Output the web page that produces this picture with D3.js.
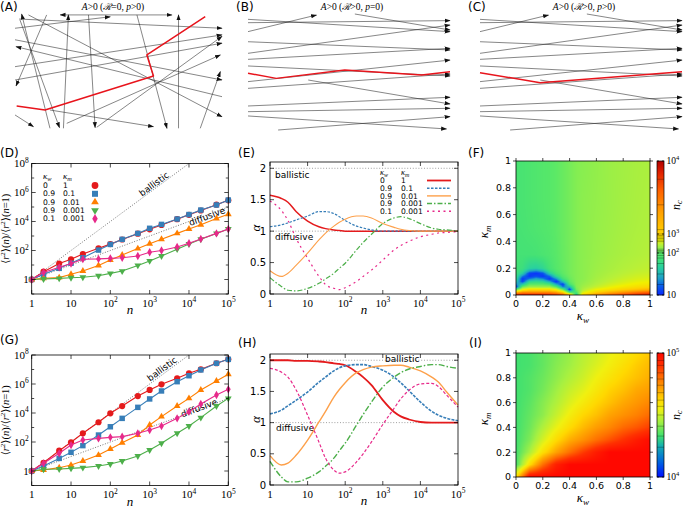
<!DOCTYPE html>
<html><head><meta charset="utf-8">
<script src="https://cdn.jsdelivr.net/npm/d3@7/dist/d3.min.js"></script>
<style>html,body{margin:0;padding:0;background:#fff}svg{display:block}</style>
</head><body>
<svg id="fig" width="685" height="513" xmlns="http://www.w3.org/2000/svg"></svg>
<script>
// ================= DATA =================
// Panels A-C : schematic trajectories, in fractional coordinates of each drawing box [x1,y1,x2,y2,bothEnds]
const netA = [
  [0.169,1.0,0.032,0.006,0],[0.024,0.058,0.215,0.994,0],[0.153,0.014,0.005,0.632,0],
  [0.218,0.014,0.758,0.014,1],[0.234,1.0,0.258,0.014,0],[0.355,0.014,0.387,0.994,0],
  [0.0,0.13,0.46,0.03,0],[0.02,0.05,1.0,0.13,0],[0.065,0.014,1.0,0.9,0],
  [1.0,0.725,0.005,0.29,0],[0.0,0.464,1.0,0.188,0],[0.0,0.58,1.0,0.26,0],
  [0.25,0.957,0.992,0.362,0],[0.395,0.991,1.0,0.2,0],[0.589,0.014,0.734,1.0,0],
  [0.79,1.0,0.79,0.014,0],[0.895,1.0,0.992,0.507,0],[0.0,0.884,0.089,0.986,0],
  [0.169,0.841,0.669,0.986,0],[0.0,0.23,1.0,0.58,0]
];
const redA = [[0.008,0.806],[0.145,0.841],[0.669,0.545],[0.637,0.362],[0.919,0.029]];
const netBC = [
  [0,0.046,1,0.152,0],[0,0.152,0.339,0.009,0],[0,0.075,1,0.057,0],[0.529,0,1,0.138,0],
  [0,0.239,1,0.31,0],[0,0.339,1,0.095,0],[0,0.391,1,0.296,0],[0,0.448,1,0.534,0],
  [0,0.583,1,0.397,0],[0,0.641,1,0.517,0],[0.298,0.569,1,0.776,0],[0,0.793,1,0.718,0],
  [0,0.842,1,0.813,0],[0,0.879,0.983,0.991,0],[0.149,1,1,0.885,0]
];
const redB = [[0,0.511],[0.14,0.555],[0.479,0.483],[0.86,0.526],[1,0.497]];
const redC = [[0,0.506],[0.298,0.592],[1,0.497]];

// Panels D and G : log10 of <r^2>(n)/<r^2>(n=1)
const nPts = [1,2,5,10,20,50,100,200,500,1000,2000,5000,10000,20000,50000,100000];
const dRed     = [0,0.54,1.1,1.39,1.76,2.15,2.44,2.76,3.16,3.46,3.76,4.16,4.46,4.76,5.16,5.46];
const dBlue    = [0,0.36,0.77,1.12,1.5,2.03,2.42,2.77,3.18,3.53,3.8,4.17,4.48,4.79,5.14,5.48];
const dOrange  = [0,0.08,0.13,0.36,0.59,0.97,1.34,1.69,2.13,2.47,2.78,3.18,3.48,3.78,4.21,4.5];
const dGreen   = [0,0.03,0.08,0.12,0.15,0.26,0.42,0.58,0.97,1.28,1.62,2.09,2.45,2.77,3.18,3.48];
const dMagenta = [0,0.49,0.84,1.1,1.4,1.42,1.46,1.5,1.62,1.88,2.0,2.24,2.5,2.8,3.18,3.48];
const gRed     = [0,0.57,1.4,1.98,2.6,3.36,3.98,4.48,5.17,5.59,5.98,6.39,6.74,7.01,7.43,7.7];
const gBlue    = [0,0.34,0.87,1.29,1.75,2.48,3.05,3.63,4.39,4.97,5.52,6.16,6.57,6.97,7.43,7.7];
const gOrange  = [0,0.07,0.23,0.41,0.69,1.1,1.52,1.95,2.48,3.17,3.75,4.48,5.01,5.59,6.21,6.67];
const gGreen   = [0,0.12,0.14,0.18,0.23,0.34,0.48,0.69,1.03,1.45,1.91,2.6,3.1,3.68,4.48,5.01];
const gMagenta = [0,0.53,1.22,1.79,2.14,2.25,2.32,2.37,2.6,2.83,3.1,3.63,4.09,4.62,5.24,5.63];
const ballisticRef = [[1,1],[1e4,1e8]];
const diffusiveRef = [[1,1],[1e5,1e5]];

// Panels E and H : local exponent alpha(n)
const aN = [1,2,3,5,10,20,30,50,70,100,200,300,500,1000,2000,3000,5000,10000,20000,30000,50000,100000];
const eRed     = [1.57,1.52,1.46,1.31,1.16,1.07,1.04,1.02,1.01,1.0,1.0,1.0,1.0,1.0,1.0,1.0,1.0,1.0,1.0,1.0,1.0,1.0];
const eBlue    = [1.07,1.1,1.13,1.18,1.24,1.31,1.31,1.28,1.23,1.17,1.08,1.05,1.02,1.0,1.0,1.0,1.0,1.0,1.0,1.0,1.0,1.0];
const eOrange  = [0.37,0.28,0.33,0.46,0.65,0.86,0.97,1.08,1.14,1.19,1.24,1.24,1.21,1.12,1.06,1.03,1.01,1.0,1.0,1.0,1.0,1.0];
const eGreen   = [0.26,0.12,0.06,0.05,0.09,0.17,0.24,0.33,0.41,0.49,0.7,0.82,0.95,1.12,1.21,1.23,1.2,1.12,1.05,1.03,1.02,1.0];
const eMagenta = [1.48,1.33,1.17,0.88,0.57,0.28,0.15,0.09,0.07,0.1,0.2,0.28,0.38,0.54,0.7,0.77,0.84,0.91,0.95,0.97,0.98,0.99];
const hRed     = [2.0,2.0,2.0,1.99,1.99,1.98,1.97,1.95,1.94,1.92,1.81,1.73,1.6,1.36,1.17,1.1,1.05,1.01,1.0,1.0,1.0,1.0];
const hBlue    = [1.14,1.2,1.27,1.36,1.49,1.65,1.73,1.83,1.88,1.91,1.93,1.93,1.9,1.84,1.73,1.64,1.51,1.33,1.18,1.12,1.07,1.03];
const hOrange  = [0.47,0.32,0.35,0.48,0.72,1.01,1.18,1.41,1.53,1.64,1.8,1.85,1.89,1.91,1.92,1.92,1.89,1.83,1.73,1.65,1.49,1.28];
const hGreen   = [0.38,0.13,0.05,0.05,0.11,0.21,0.3,0.43,0.55,0.67,0.96,1.13,1.33,1.57,1.73,1.8,1.86,1.9,1.93,1.93,1.9,1.87];
const hMagenta = [1.87,1.81,1.73,1.52,1.12,0.69,0.43,0.24,0.19,0.21,0.37,0.5,0.69,0.97,1.23,1.38,1.52,1.62,1.63,1.58,1.44,1.25];

// Legend entries
const legKw = ['0','0.9','0.9','0.9','0.1'];
const legKm = ['1','0.1','0.01','0.001','0.001'];

// Panel F : log10 n_c on grid; one column per kappa_w, values along kappa_m
const fKw = [0,0.05,0.1,0.15,0.2,0.25,0.3,0.35,0.4,0.45,0.5,0.6,0.7,0.8,0.9,1];
const fKm = [0,0.02,0.04,0.06,0.08,0.1,0.12,0.14,0.16,0.18,0.2,0.3,0.5,0.7,1];
const fCols = [
  [3.9,3.2,2.0,1.05,1.35,1.6,1.75,1.82,1.85,1.86,1.87,1.88,1.89,1.9,1.9],
  [3.9,3.4,2.7,2.1,1.6,1.15,1.05,1.3,1.6,1.75,1.82,1.88,1.9,1.91,1.91],
  [3.9,3.4,2.9,2.3,2.0,1.7,1.3,1.05,1.1,1.45,1.68,1.88,1.92,1.93,1.93],
  [3.9,3.4,2.9,2.3,2.0,1.75,1.45,1.15,1.05,1.35,1.65,1.89,1.94,1.95,1.95],
  [3.9,3.4,2.9,2.3,2.0,1.7,1.35,1.05,1.15,1.5,1.72,1.92,1.96,1.97,1.97],
  [3.85,3.4,2.9,2.3,1.9,1.45,1.05,1.25,1.6,1.8,1.88,1.95,1.98,1.99,1.99],
  [3.8,3.3,2.7,2.0,1.45,1.05,1.35,1.7,1.88,1.95,1.98,2.0,2.02,2.02,2.02],
  [3.7,3.0,2.1,1.3,1.1,1.55,1.85,1.97,2.02,2.04,2.05,2.06,2.07,2.07,2.07],
  [3.3,1.9,1.08,1.5,1.9,2.02,2.07,2.1,2.12,2.12,2.12,2.12,2.12,2.12,2.12],
  [1.6,1.9,2.1,2.17,2.18,2.18,2.18,2.18,2.18,2.18,2.18,2.18,2.18,2.18,2.18],
  [3.0,2.6,2.4,2.32,2.27,2.24,2.22,2.22,2.22,2.22,2.22,2.22,2.22,2.22,2.2],
  [3.4,3.0,2.7,2.5,2.42,2.38,2.35,2.33,2.32,2.31,2.3,2.28,2.27,2.26,2.25],
  [3.6,3.2,2.85,2.65,2.55,2.48,2.44,2.41,2.39,2.37,2.36,2.33,2.31,2.3,2.3],
  [3.75,3.35,3.0,2.78,2.65,2.57,2.52,2.48,2.45,2.43,2.41,2.37,2.35,2.34,2.33],
  [3.85,3.5,3.1,2.88,2.74,2.65,2.58,2.54,2.5,2.47,2.45,2.4,2.38,2.37,2.36],
  [3.9,3.6,3.2,2.95,2.8,2.7,2.62,2.57,2.53,2.5,2.48,2.43,2.4,2.39,2.38]
];
const fLevels = [1.25,1.5,1.75,1.88,1.94,2.0,2.06,2.13,2.2,2.6,2.68,2.76,2.84,2.92,3.0,3.06,3.4,3.75];
const fTicks = [1,2,3,4];

// Panel I : log10 n_c ; one row per kappa_m, values along kappa_w
const iK = [0,0.1,0.2,0.3,0.4,0.5,0.6,0.7,0.8,0.9,1];
const iRows = [
  [4.6,5,5,5,5,5,5,5,5,5,5],
  [4.33,4.6,4.8,4.94,5,5,5,5,5,5,5],
  [4.33,4.45,4.6,4.71,4.8,4.88,4.95,5,5,5,5],
  [4.33,4.4,4.51,4.61,4.69,4.74,4.8,4.85,4.9,4.95,4.99],
  [4.33,4.38,4.46,4.54,4.61,4.67,4.72,4.76,4.81,4.84,4.88],
  [4.33,4.37,4.42,4.49,4.56,4.62,4.66,4.71,4.74,4.77,4.81],
  [4.33,4.36,4.41,4.46,4.52,4.57,4.62,4.66,4.7,4.73,4.76],
  [4.33,4.35,4.39,4.44,4.49,4.53,4.58,4.63,4.66,4.7,4.72],
  [4.33,4.35,4.38,4.42,4.46,4.5,4.55,4.59,4.63,4.66,4.69],
  [4.33,4.34,4.37,4.41,4.44,4.48,4.52,4.56,4.6,4.64,4.67],
  [4.33,4.34,4.37,4.4,4.43,4.47,4.5,4.54,4.57,4.61,4.65]
];
const iLevels = [4.24,4.33,4.41,4.5,4.57,4.62,4.68,4.74,4.79,4.84,4.9,4.94];
const iTicks = [4,5];
const kTicks = [0,0.2,0.4,0.6,0.8,1];

// ================= STYLE =================
const SANS = "'DejaVu Sans', 'Liberation Sans', sans-serif";
const SERIF = "'Liberation Serif', 'DejaVu Serif', serif";
const C = {red:'#e41a1c', blue:'#377eb8', orange:'#ff7f00', green:'#4daf4a', magenta:'#e7298a', lorange:'#fda04a'};

const svg = d3.select('#fig');
const defs = svg.append('defs');
defs.append('marker').attr('id','arr').attr('viewBox','0 0 10 10').attr('refX',9).attr('refY',5)
  .attr('markerWidth',6).attr('markerHeight',6).attr('markerUnits','userSpaceOnUse').attr('orient','auto-start-reverse')
  .append('path').attr('d','M0,1.5 L10,5 L0,8.5 z').attr('fill','#111');

function label(x,y,t){ svg.append('text').attr('x',x).attr('y',y).attr('font-family',SANS).attr('font-size',12).text(t); }
[['(A)',0,11],['(B)',236,11],['(C)',468,11],['(D)',0,157],['(E)',238,157],['(F)',468,157],['(G)',0,344],['(H)',238,347],['(I)',469,347]]
  .forEach(d=>label(d[1],d[2],d[0]));

function powText(g,x,y,exp,anchor,size,family){
  const t=g.append('text').attr('x',x).attr('y',y).attr('text-anchor',anchor).attr('font-size',size)
    .attr('font-family',family).attr('dy','0.35em');
  if(exp===0) t.text('1');
  else if(exp===1) t.text('10');
  else { t.text('10'); t.append('tspan').attr('dy',-size*0.42).attr('font-size',size*0.68).text(exp); }
  return t;
}
function kappa(g,x,y,sub,size,rot,anchor){
  const t=g.append('text').attr('font-family',SERIF).attr('font-style','italic').attr('font-size',size)
    .attr('text-anchor',anchor||'middle')
    .attr('transform',`translate(${x},${y+size*0.3})`+(rot?' rotate(-90)':''));
  t.append('tspan').text('κ');
  t.append('tspan').attr('font-size',size*0.7).attr('dy',size*0.2).text(sub);
  return t;
}

// ================= A-C =================
function title(cx,t1,t2){
  const t=svg.append('text').attr('x',cx).attr('y',10).attr('text-anchor','middle').attr('font-family',SERIF).attr('font-size',9.5);
  t.append('tspan').attr('font-style','italic').text('A');
  t.append('tspan').text('>0 (');
  t.append('tspan').attr('font-style','italic').text('ℛ');
  t.append('tspan').text(t1+', ');
  t.append('tspan').attr('font-style','italic').text('p');
  t.append('tspan').text(t2+')');
}
function net(xr,yr,lines,red){
  const sx=d3.scaleLinear([0,1],xr), sy=d3.scaleLinear([0,1],yr);
  const g=svg.append('g');
  lines.forEach(l=>{
    const ln=g.append('line').attr('x1',sx(l[0])).attr('y1',sy(l[1])).attr('x2',sx(l[2])).attr('y2',sy(l[3]))
      .attr('stroke','#222').attr('stroke-width',0.55).attr('marker-end','url(#arr)');
    if(l[4]) ln.attr('marker-start','url(#arr)');
  });
  g.append('path').attr('d',d3.line().x(d=>sx(d[0])).y(d=>sy(d[1]))(red))
    .attr('fill','none').attr('stroke','#e8141c').attr('stroke-width',1.5).attr('stroke-linejoin','round');
}
title(113,'=0','>0'); title(352,'>0','=0'); title(584,'>0','>0');
net([15,222],[13.3,128.3],netA,redA);
net([248,450],[14,130],netBC,redB);
net([480,682],[14,130],netBC,redC);

// ================= D, G =================
const sym = [d3.symbolCircle,d3.symbolSquare,d3.symbolTriangle,d3.symbolTriangle,d3.symbolDiamond];
const symSize = [30,30,20,20,20];
const symRot = [0,0,0,180,0];
const colors5 = [C.red,C.blue,C.orange,C.green,C.magenta];

function msd(xr,yr,sets,legend,labB,labD){
  const x=d3.scaleLog().domain([1,1e5]).range(xr);
  const y=d3.scaleLog().domain([0.1,1e8]).range(yr);
  const g=svg.append('g');
  const ln=d3.line().x(d=>x(d[0])).y(d=>y(d[1]));
  [ballisticRef,diffusiveRef].forEach(r=>g.append('path').attr('d',ln(r)).attr('fill','none')
     .attr('stroke','#555').attr('stroke-width',0.8).attr('stroke-dasharray','1,1.6'));
  const ang1=Math.atan2(y(1)-y(100),x(10)-x(1))*180/Math.PI;
  const ang2=Math.atan2(y(1)-y(10),x(10)-x(1))*180/Math.PI;
  g.append('text').attr('transform',`translate(${labB[0]},${labB[1]}) rotate(${-ang1})`).attr('text-anchor','middle')
    .attr('dy','0.35em').attr('font-family',SANS).attr('font-size',9).text('ballistic');
  g.append('text').attr('transform',`translate(${labD[0]},${labD[1]}) rotate(${-ang2})`).attr('text-anchor','middle')
    .attr('dy','0.35em').attr('font-family',SANS).attr('font-size',9).text('diffusive');
  sets.forEach((vals,i)=>{
    const pts=nPts.map((n,k)=>[n,Math.pow(10,vals[k])]);
    g.append('path').attr('d',ln(pts)).attr('fill','none').attr('stroke',colors5[i]).attr('stroke-width',1.1);
    g.selectAll(null).data(pts).enter().append('path')
      .attr('transform',d=>`translate(${x(d[0])},${y(d[1])}) rotate(${symRot[i]})`)
      .attr('d',d3.symbol(sym[i],symSize[i])()).attr('fill',colors5[i]);
  });
  const [x0,x1]=xr, [yb,yt]=yr;
  g.append('rect').attr('x',x0).attr('y',yt).attr('width',x1-x0).attr('height',yb-yt).attr('fill','none').attr('stroke','#000').attr('stroke-width',0.8);
  for(let e=0;e<=5;e++){
    const px=x(Math.pow(10,e));
    g.append('line').attr('x1',px).attr('x2',px).attr('y1',yb).attr('y2',yb-4).attr('stroke','#000').attr('stroke-width',0.7);
    g.append('line').attr('x1',px).attr('x2',px).attr('y1',yt).attr('y2',yt+4).attr('stroke','#000').attr('stroke-width',0.7);
    powText(g,px,yb+9,e,'middle',11,SERIF);
  }
  for(let e=-1;e<=8;e++){
    const py=y(Math.pow(10,e)), L=(e%2===0)?4:2.5;
    g.append('line').attr('x1',x0).attr('x2',x0+L).attr('y1',py).attr('y2',py).attr('stroke','#000').attr('stroke-width',0.7);
    g.append('line').attr('x1',x1).attr('x2',x1-L).attr('y1',py).attr('y2',py).attr('stroke','#000').attr('stroke-width',0.7);
    if(e>=0 && e%2===0) powText(g,x0-3,py,e,'end',11,SERIF);
  }
  const cy=(yb+yt)/2;
  g.append('text').attr('x',(x0+x1)/2).attr('y',yb+20).attr('text-anchor','middle').attr('font-family',SERIF)
    .attr('font-style','italic').attr('font-size',13).text('n');
  const yl=g.append('text').attr('transform',`translate(9,${cy}) rotate(-90)`).attr('text-anchor','middle')
    .attr('font-family',SERIF).attr('font-size',10.5);
  yl.append('tspan').text('⟨');yl.append('tspan').attr('font-style','italic').text('r');
  yl.append('tspan').attr('font-size',7).attr('dy',-4).text('2');
  yl.append('tspan').attr('dy',4).text('⟩(');yl.append('tspan').attr('font-style','italic').text('n');
  yl.append('tspan').text(')/⟨');yl.append('tspan').attr('font-style','italic').text('r');
  yl.append('tspan').attr('font-size',7).attr('dy',-4).text('2');
  yl.append('tspan').attr('dy',4).text('⟩(');yl.append('tspan').attr('font-style','italic').text('n');
  yl.append('tspan').text('=1)');
  if(legend){
    const lx1=43, lx2=63, mx=95, hy=176;
    kappa(g,lx1,hy,'w',9,false,'start');
    kappa(g,lx2,hy,'m',9,false,'start');
    legKw.forEach((k,i)=>{
      const ry=hy+9.5+i*8.3;
      g.append('text').attr('x',lx1).attr('y',ry).attr('dy','0.35em').attr('font-family',SANS).attr('font-size',7.6).text(k);
      g.append('text').attr('x',lx2).attr('y',ry).attr('dy','0.35em').attr('font-family',SANS).attr('font-size',7.6).text(legKm[i]);
      g.append('path').attr('transform',`translate(${mx},${ry}) rotate(${symRot[i]})`)
        .attr('d',d3.symbol(sym[i],symSize[i]+6)()).attr('fill',colors5[i]);
    });
  }
}
msd([31.7,228.3],[294,163.5],[dRed,dBlue,dOrange,dGreen,dMagenta],true,[154,184],[207,216.5]);
msd([31.7,228.3],[485.5,355],[gRed,gBlue,gOrange,gGreen,gMagenta],false,[162,369],[199,408]);

// ================= E, H =================
const eColors=[C.red,C.blue,C.lorange,C.green,C.magenta];
function alphaPanel(xr,yr,sets,dashes,widths,legend,labB,labD){
  const x=d3.scaleLog().domain([1,1e5]).range(xr);
  const y=d3.scaleLinear().domain([0,2.1]).range(yr);
  const g=svg.append('g');
  const [x0,x1]=xr,[yb,yt]=yr;
  [1,2].forEach(v=>g.append('line').attr('x1',x0).attr('x2',x1).attr('y1',y(v)).attr('y2',y(v))
     .attr('stroke','#888').attr('stroke-width',0.8).attr('stroke-dasharray','1,1.8'));
  g.append('text').attr('x',labB[0]).attr('y',labB[1]).attr('dy','0.35em').attr('font-family',SANS).attr('font-size',9).text('ballistic');
  g.append('text').attr('x',labD[0]).attr('y',labD[1]).attr('dy','0.35em').attr('font-family',SANS).attr('font-size',9).text('diffusive');
  const ln=d3.line().x(d=>x(d[0])).y(d=>y(d[1])).curve(d3.curveMonotoneX);
  sets.forEach((vals,i)=>{
    g.append('path').attr('d',ln(aN.map((n,k)=>[n,vals[k]]))).attr('fill','none').attr('stroke',eColors[i])
      .attr('stroke-width',widths[i]).attr('stroke-dasharray',dashes[i]);
  });
  g.append('rect').attr('x',x0).attr('y',yt).attr('width',x1-x0).attr('height',yb-yt).attr('fill','none').attr('stroke','#000').attr('stroke-width',0.8);
  for(let e=0;e<=5;e++){
    const px=x(Math.pow(10,e));
    g.append('line').attr('x1',px).attr('x2',px).attr('y1',yb).attr('y2',yb-4).attr('stroke','#000').attr('stroke-width',0.7);
    g.append('line').attr('x1',px).attr('x2',px).attr('y1',yt).attr('y2',yt+4).attr('stroke','#000').attr('stroke-width',0.7);
    powText(g,px,yb+9,e,'middle',11,SERIF);
  }
  [0,0.5,1,1.5,2].forEach(v=>{
    const py=y(v);
    g.append('line').attr('x1',x0).attr('x2',x0+4).attr('y1',py).attr('y2',py).attr('stroke','#000').attr('stroke-width',0.7);
    g.append('line').attr('x1',x1).attr('x2',x1-4).attr('y1',py).attr('y2',py).attr('stroke','#000').attr('stroke-width',0.7);
    g.append('text').attr('x',x0-4).attr('y',py).attr('dy','0.35em').attr('text-anchor','end').attr('font-family',SANS).attr('font-size',10).text(v);
  });
  g.append('text').attr('x',(x0+x1)/2).attr('y',yb+20).attr('text-anchor','middle').attr('font-family',SERIF)
    .attr('font-style','italic').attr('font-size',13).text('n');
  g.append('text').attr('transform',`translate(${x0-10},${(yb+yt)/2}) rotate(-90)`).attr('text-anchor','middle')
    .attr('font-family',SERIF).attr('font-style','italic').attr('font-size',13).text('α');
  if(legend){
    const lx1=380, lx2=401, s0=427, s1=451, hy=172.5;
    kappa(g,lx1,hy,'w',8.5,false,'start');
    kappa(g,lx2,hy,'m',8.5,false,'start');
    legKw.forEach((k,i)=>{
      const ry=hy+8+7.7*i;
      g.append('text').attr('x',lx1).attr('y',ry).attr('dy','0.35em').attr('font-family',SANS).attr('font-size',7.6).text(k);
      g.append('text').attr('x',lx2).attr('y',ry).attr('dy','0.35em').attr('font-family',SANS).attr('font-size',7.6).text(legKm[i]);
      g.append('line').attr('x1',s0).attr('x2',s1).attr('y1',ry).attr('y2',ry).attr('stroke',eColors[i])
        .attr('stroke-width',widths[i]+0.3).attr('stroke-dasharray',dashes[i]);
    });
  }
}
alphaPanel([270,458],[294,162],[eRed,eBlue,eOrange,eGreen,eMagenta],
  [null,'2.5,1.5',null,'5,2,1.5,2','2,3.5'],[1.5,1.2,1.1,1.2,1.2],true,[275,175],[275,237]);
alphaPanel([270,458],[485,354],[hRed,hBlue,hOrange,hGreen,hMagenta],
  [null,'3,1.2',null,'6,2,1.5,2','3,2'],[1.8,1.6,1.4,1.4,1.2],false,[385,359],[276,428]);

// ================= F, I heatmaps =================
const colF = d3.scaleLinear().domain([1,1.24,1.4,1.65,1.85,2.0,2.2,2.44,2.7,3,3.3,3.6,3.84,4])
  .range(['#0a28ff','#0a64e6','#1ea0c8','#28d0a0','#40e078','#58e868','#88ee50','#b8f038','#f0f000','#ffd000','#ffa000','#ff6000','#e02000','#b00000']).clamp(true);
const colI = d3.scaleLinear().domain([4,4.12,4.25,4.33,4.45,4.55,4.62,4.7,4.8,4.9,5])
  .range(['#0010ff','#0064e0','#14b0b0','#40e070','#a8f040','#f0f010','#ffd800','#ffa800','#ff7000','#ff3000','#ff0800']).clamp(true);

function heat(xr,yr,kwArr,kmArr,get,color){
  const x=d3.scaleLinear([0,1],xr), y=d3.scaleLinear([0,1],yr);
  const w=Math.round(xr[1]-xr[0]), h=Math.round(yr[0]-yr[1]);
  const cv=document.createElement('canvas'); cv.width=w; cv.height=h;
  const ctx=cv.getContext('2d'); const img=ctx.createImageData(w,h);
  const idx=(arr,v)=>Math.min(arr.length-2,Math.max(0,d3.bisectRight(arr,v)-1));
  for(let j=0;j<h;j++){
    const km=y.invert(yr[1]+j+0.5), jj=idx(kmArr,km), tj=(km-kmArr[jj])/(kmArr[jj+1]-kmArr[jj]);
    for(let i=0;i<w;i++){
      const kw=x.invert(xr[0]+i+0.5), ii=idx(kwArr,kw), ti=(kw-kwArr[ii])/(kwArr[ii+1]-kwArr[ii]);
      const v=(1-ti)*(1-tj)*get(ii,jj)+ti*(1-tj)*get(ii+1,jj)+(1-ti)*tj*get(ii,jj+1)+ti*tj*get(ii+1,jj+1);
      const c=d3.rgb(color(v)); const p=(j*w+i)*4;
      img.data[p]=c.r; img.data[p+1]=c.g; img.data[p+2]=c.b; img.data[p+3]=255;
    }
  }
  ctx.putImageData(img,0,0);
  const g=svg.append('g');
  g.append('image').attr('href',cv.toDataURL()).attr('x',xr[0]).attr('y',yr[1]).attr('width',w).attr('height',h).attr('preserveAspectRatio','none');
  g.append('rect').attr('x',xr[0]).attr('y',yr[1]).attr('width',w).attr('height',h).attr('fill','none').attr('stroke','#000').attr('stroke-width',0.8);
  kTicks.forEach(t=>{
    const px=x(t), py=y(t);
    g.append('line').attr('x1',px).attr('x2',px).attr('y1',yr[0]).attr('y2',yr[0]+3).attr('stroke','#000').attr('stroke-width',0.7);
    g.append('line').attr('x1',px).attr('x2',px).attr('y1',yr[1]).attr('y2',yr[1]-3).attr('stroke','#000').attr('stroke-width',0.7);
    g.append('line').attr('y1',py).attr('y2',py).attr('x1',xr[0]).attr('x2',xr[0]-3).attr('stroke','#000').attr('stroke-width',0.7);
    g.append('line').attr('y1',py).attr('y2',py).attr('x1',xr[1]).attr('x2',xr[1]+3).attr('stroke','#000').attr('stroke-width',0.7);
    g.append('text').attr('x',px).attr('y',yr[0]+12).attr('text-anchor','middle').attr('font-family',SANS).attr('font-size',9.5).text(t);
    g.append('text').attr('x',xr[0]-5).attr('y',py).attr('dy','0.35em').attr('text-anchor','end').attr('font-family',SANS).attr('font-size',9.5).text(t);
  });
  kappa(g,(xr[0]+xr[1])/2,yr[0]+21,'w',13);
  kappa(g,xr[0]-28,(yr[0]+yr[1])/2,'m',13,true);
}
function cbar(xr,cb,color,levels,ticks,labelY){
  const g=svg.append('g');
  const [yb,yt]=[cb.range()[0],cb.range()[cb.range().length-1]];
  for(let yy=yt; yy<yb; yy+=1){
    g.append('rect').attr('x',xr[0]).attr('y',yy).attr('width',xr[1]-xr[0]).attr('height',1.2).attr('fill',color(cb.invert(yy+0.5)));
  }
  levels.forEach(l=>g.append('line').attr('x1',xr[0]).attr('x2',xr[1]).attr('y1',cb(l)).attr('y2',cb(l)).attr('stroke','#000').attr('stroke-opacity',0.55).attr('stroke-width',0.5));
  g.append('rect').attr('x',xr[0]).attr('y',yt).attr('width',xr[1]-xr[0]).attr('height',yb-yt).attr('fill','none').attr('stroke','#000').attr('stroke-width',0.7);
  ticks.forEach(t=>{
    const py=cb(t);
    g.append('line').attr('x1',xr[0]).attr('x2',xr[0]+2).attr('y1',py).attr('y2',py).attr('stroke','#000').attr('stroke-width',0.7);
    g.append('line').attr('x1',xr[1]).attr('x2',xr[1]-2).attr('y1',py).attr('y2',py).attr('stroke','#000').attr('stroke-width',0.7);
    powText(g,xr[1]+2.5,py,t,'start',9.5,SERIF);
  });
  const t=g.append('text').attr('transform',`translate(${xr[1]+16},${labelY}) rotate(-90)`).attr('text-anchor','middle')
    .attr('font-family',SERIF).attr('font-style','italic').attr('font-size',12);
  t.append('tspan').text('n'); t.append('tspan').attr('font-size',8.5).attr('dy',2).text('c');
}
heat([516,650],[295,161],fKw,fKm,(i,j)=>fCols[i][j],colF);
cbar([657,664],d3.scaleLinear().domain([1,2,3,4]).range([295,253,234,161]),colF,fLevels,fTicks,205);
heat([516,650],[477,353],iK,iK,(i,j)=>iRows[j][i],colI);
cbar([657,664],d3.scaleLinear().domain([4,5]).range([477,353]),colI,iLevels,iTicks,415);
</script></body></html>
